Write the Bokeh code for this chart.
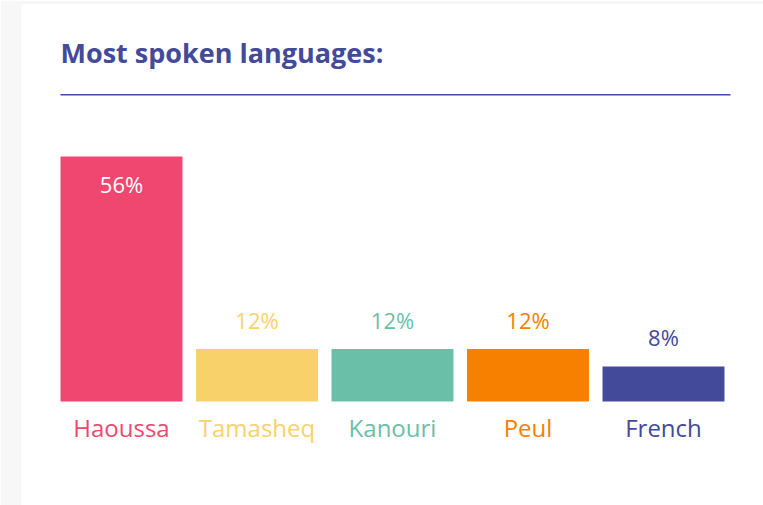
from bokeh.plotting import figure
from bokeh.models import Range1d, FactorRange, ColumnDataSource, Label, BoxAnnotation
from bokeh.embed import file_html
from bokeh.resources import INLINE
from bokeh.core.properties import value

# ---- data ----
languages = ["Haoussa", "Tamasheq", "Kanouri", "Peul", "French"]
shares = [56, 12, 12, 12, 8]
colors = ["#EF476F", "#F9D16A", "#6ABFA8", "#F78000", "#434A9A"]
title_text = "Most spoken languages:"

FONT = "Open Sans"

labels = [f"{v}%" for v in shares]
inside = [v > 30 for v in shares]
label_colors = ["#FFFFFF" if i else c for i, c in zip(inside, colors)]
label_offsets = [27.5 if i else -29.5 for i in inside]

src = ColumnDataSource(dict(lang=languages, share=shares, color=colors,
                            label=labels, lcolor=label_colors, loff=label_offsets,
                            zero=[0] * len(languages)))

p = figure(width=763, height=505,
           x_range=FactorRange(*languages, range_padding=0.238, range_padding_units="absolute"),
           y_range=Range1d(-23.771, 90.743),
           x_axis_location=None, y_axis_location=None,
           output_backend="svg", toolbar_location=None,
           min_border_left=21, min_border_right=0, min_border_top=4, min_border_bottom=0)
p.grid.visible = False
p.outline_line_color = None
p.background_fill_color = "white"
p.border_fill_color = "#F7F7F7"

p.vbar(x="lang", top="share", width=0.9, fill_color="color", line_color=None, source=src)

p.text(x="lang", y="share", text="label", text_color="lcolor", y_offset="loff",
       text_align="center", text_baseline="alphabetic",
       text_font=value(FONT), text_font_size="22px", source=src)

p.text(x="lang", y="zero", text="lang", text_color="color", y_offset=25.5,
       text_align="center", text_baseline="alphabetic",
       text_font=value(FONT), text_font_size="24px", source=src)

title = Label(x=39, y=453, x_units="screen", y_units="screen", text=title_text,
              text_font=FONT, text_font_size="27px", text_font_style="bold",
              text_color="#434A9A", text_baseline="alphabetic")
p.add_layout(title)

rule = BoxAnnotation(left=39, right=709, bottom=410, top=411.5,
                     left_units="screen", right_units="screen",
                     bottom_units="screen", top_units="screen",
                     fill_color="#3F4AAE", fill_alpha=1.0, line_alpha=0)
p.add_layout(rule)

open("out.html", "w").write(file_html(p, INLINE))
